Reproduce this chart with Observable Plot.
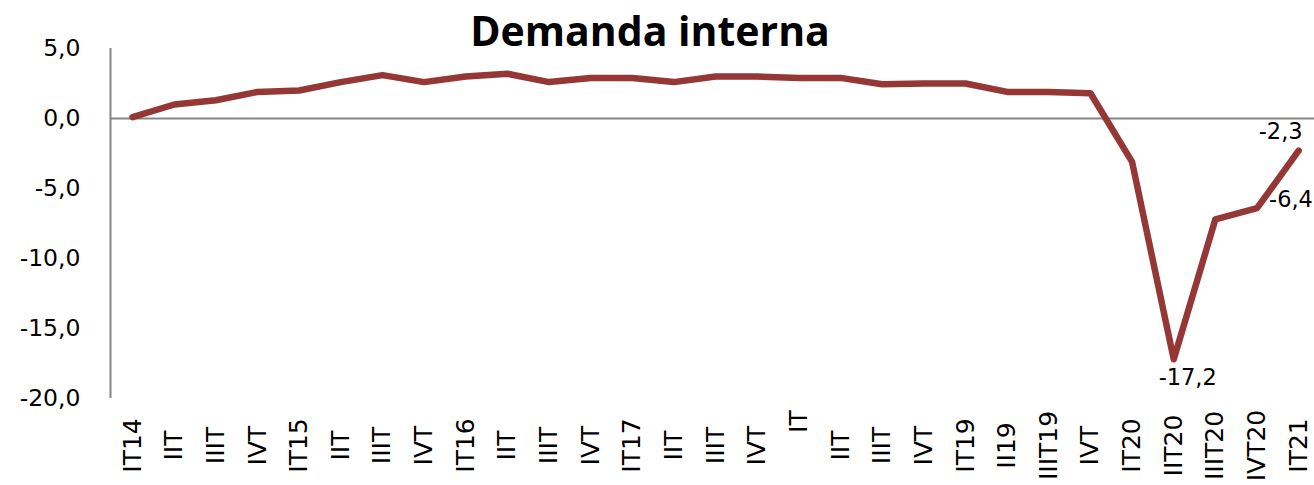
<!DOCTYPE html>
<html>
<head>
<meta charset="utf-8">
<script src="https://cdn.jsdelivr.net/npm/d3@7"></script>
<script src="https://cdn.jsdelivr.net/npm/@observablehq/plot@0.6"></script>
<style>
  html, body { margin: 0; padding: 0; background: #fff; overflow: hidden; }
  #wrap { position: relative; width: 1314px; height: 485px; }
  #title { position: absolute; left: 0; width: 1300px; top: 2px; text-align: center;
           font-family: "Open Sans", sans-serif; font-weight: 700; font-size: 41px; line-height: 56px; color: #000; }
</style>
</head>
<body>
<div id="wrap">
  <div id="chart"></div>
  <div id="title">Demanda interna</div>
</div>
<script>
const categories = ["IT14","IIT","IIIT","IVT","IT15","IIT","IIIT","IVT","IT16","IIT","IIIT","IVT","IT17","IIT","IIIT","IVT",
  "\u00a0\u00a0\u00a0\u00a0\u00a0\u00a0IT","IIT","IIIT","IVT","IT19","II19","IIIT19","IVT","IT20","IIT20","IIIT20","IVT20","IT21"];
const values = [0.1, 1.0, 1.3, 1.9, 2.0, 2.6, 3.1, 2.6, 3.0, 3.2, 2.6, 2.9, 2.9, 2.6, 3.0, 3.0,
  2.9, 2.9, 2.45, 2.5, 2.5, 1.9, 1.9, 1.8, -3.1, -17.2, -7.2, -6.4, -2.3];
const yTicks = [-20, -15, -10, -5, 0, 5];

const data = categories.map((c, i) => ({i, label: c, value: values[i]}));
const fmt = d => d.toFixed(1).replace(".", ",");
const FONT = "DejaVu Sans";
const x0 = -0.53, x1 = 28.38;

const chart = Plot.plot({
  width: 1314,
  height: 485,
  marginLeft: 110,
  marginRight: 0,
  marginTop: 48,
  marginBottom: 87,
  style: {fontFamily: FONT, background: "#fff", overflow: "hidden"},
  x: {type: "linear", domain: [x0, x1], axis: null},
  y: {domain: [-20, 5], axis: null},
  marks: [
    Plot.ruleY([0], {stroke: "#868686", strokeWidth: 2}),
    Plot.ruleX([x0], {y1: -20, y2: 5, stroke: "#868686", strokeWidth: 2}),
    Plot.text(yTicks, {x: x0, y: d => d, text: d => fmt(d), textAnchor: "end", dx: -30, fontSize: 23.5, fill: "#000"}),
    Plot.text(data, {x: "i", text: "label", frameAnchor: "bottom", rotate: -90, textAnchor: "middle", lineAnchor: "middle",
      dy: 47, fontSize: 25, fill: "#000"}),
    Plot.line(data, {x: "i", y: "value", stroke: "#953735", strokeWidth: 6.5, strokeLinejoin: "round", strokeLinecap: "round"}),
    Plot.text([data[25]], {x: "i", y: "value", text: d => fmt(d.value), dx: 14, dy: 18, fontSize: 22.5, fill: "#000"}),
    Plot.text([data[27]], {x: "i", y: "value", text: d => fmt(d.value), textAnchor: "start", dx: 12, dy: -8, fontSize: 22.5, fill: "#000"}),
    Plot.text([data[28]], {x: "i", y: "value", text: d => fmt(d.value), dx: -18, dy: -19, fontSize: 22.5, fill: "#000"})
  ]
});
document.getElementById("chart").appendChild(chart);
</script>
</body>
</html>
